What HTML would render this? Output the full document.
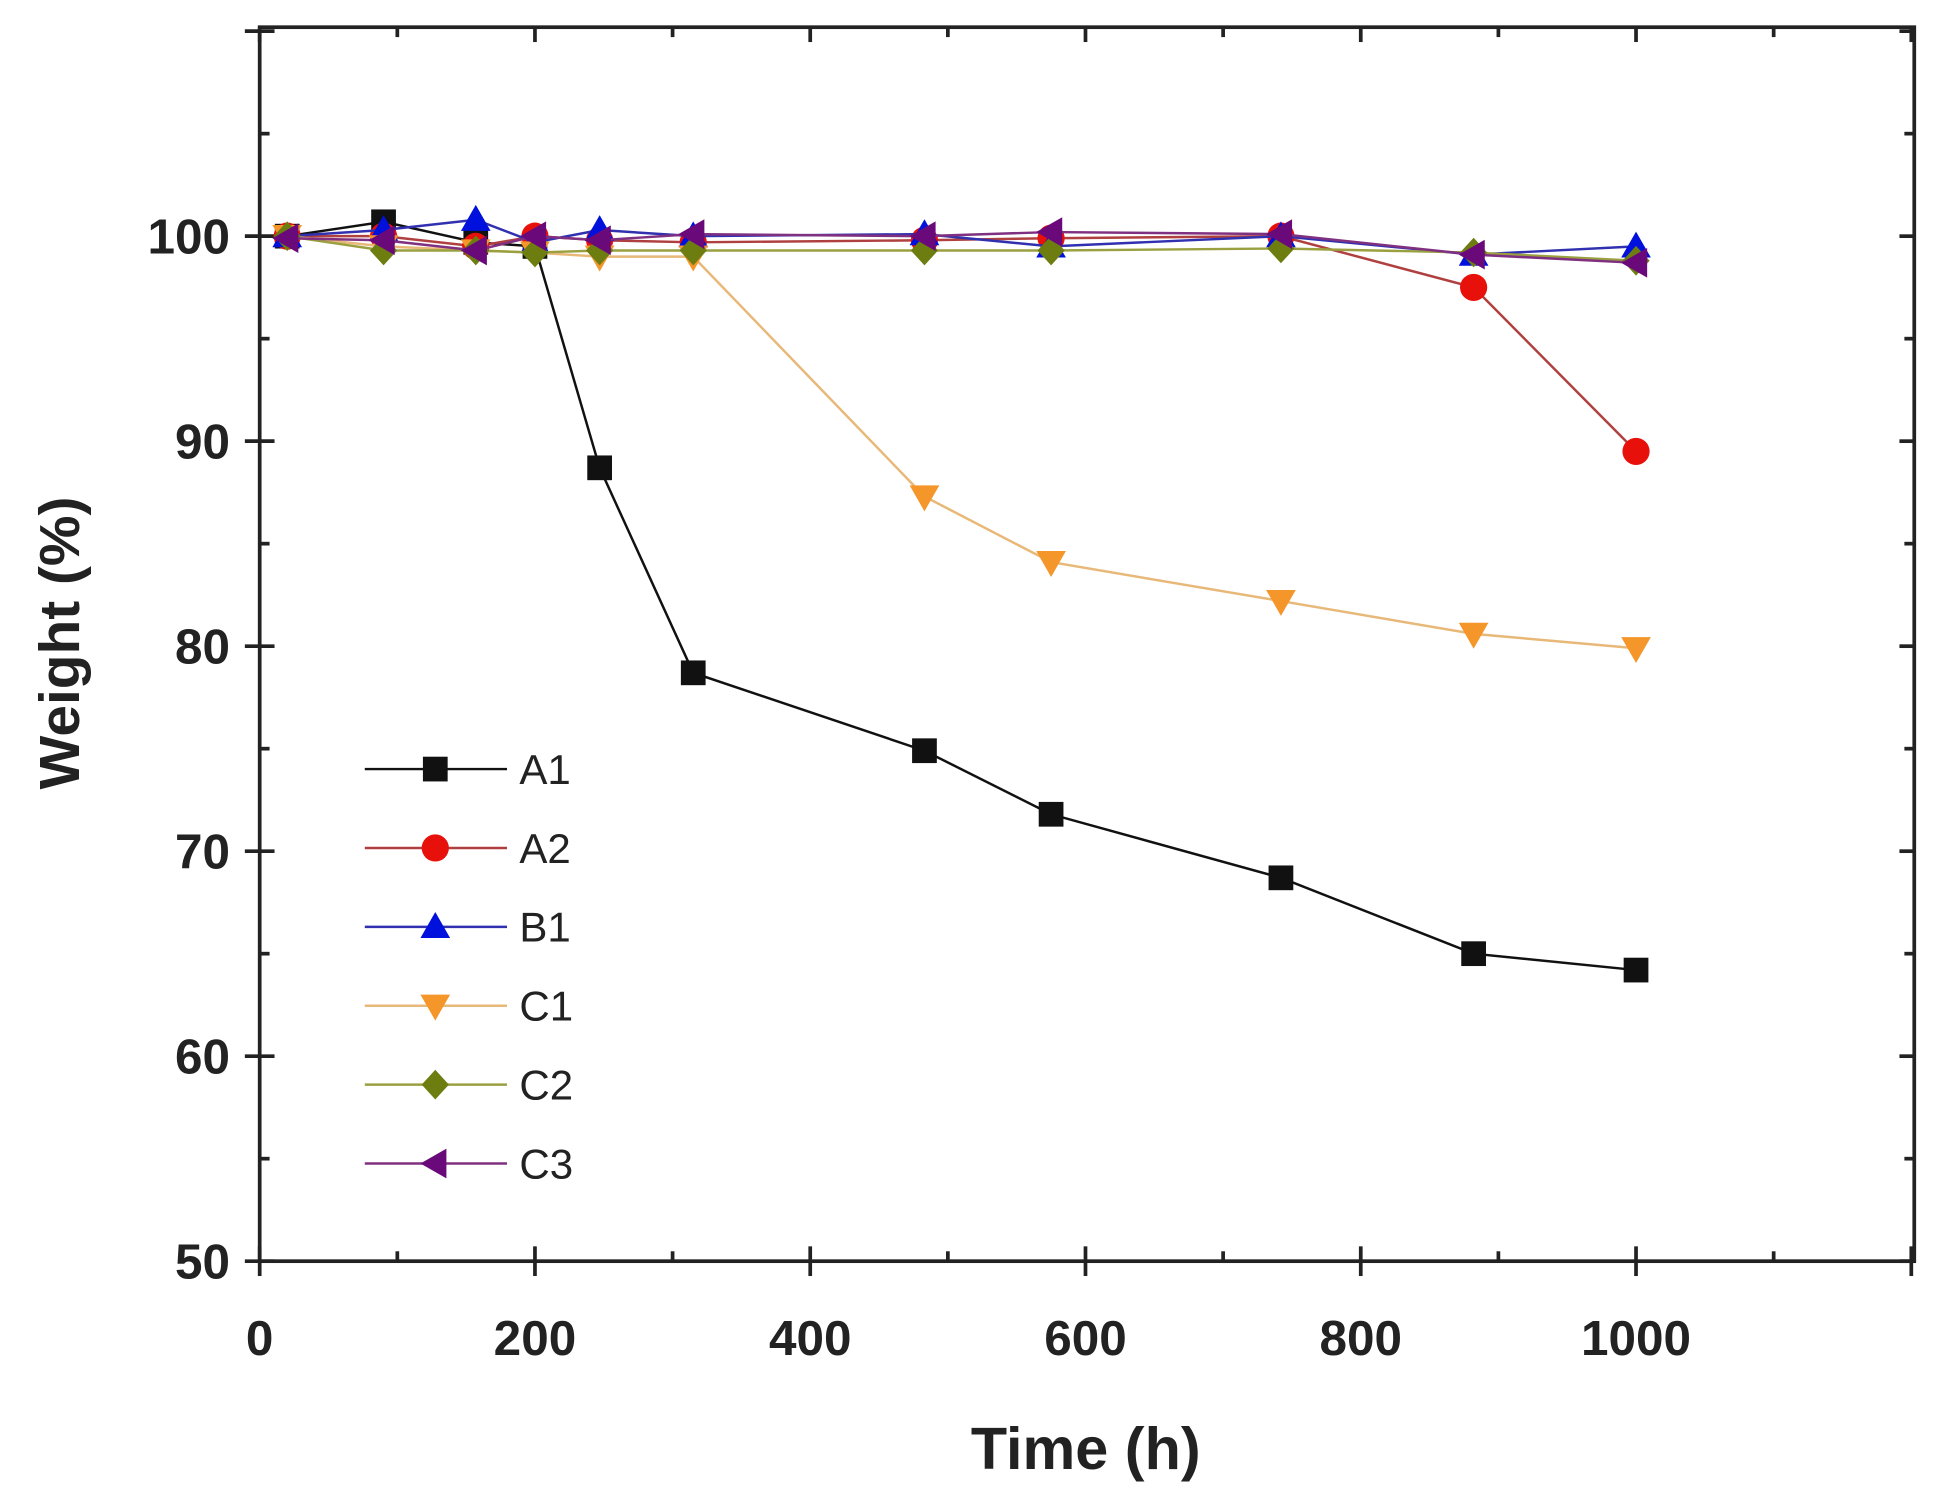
<!DOCTYPE html>
<html><head><meta charset="utf-8"><style>
html,body{margin:0;padding:0;background:#fff;}
svg{display:block;}
text{font-family:"Liberation Sans",Arial,sans-serif;}
</style></head><body>
<svg id="s" width="1939" height="1506" viewBox="0 0 1568 1218" preserveAspectRatio="none" xmlns="http://www.w3.org/2000/svg">
<rect width="1568" height="1218" fill="#fff"/>
<g id="g"></g>
</svg>
<script>
const X=t=>210+t*1.113, Y=v=>191+(100-v)*16.58;
let h='';
h+='<rect x="210" y="22" width="1338" height="998" fill="none" stroke="#222" stroke-width="3"/>';
for(let v=50;v<=110;v+=5){const y=Y(v);const maj=v%10==0;
 if(y<22||y>1020)continue;
 h+=`<line x1="${maj?198:210}" y1="${y}" x2="${maj?222:218}" y2="${y}" stroke="#222" stroke-width="3"/>`;
 h+=`<line x1="${maj?1536:1540}" y1="${y}" x2="1548" y2="${y}" stroke="#222" stroke-width="3"/>`;
 if(maj&&v<=100)h+=`<text x="186" y="${y+14}" font-size="40" font-weight="bold" text-anchor="end" fill="#222">${v}</text>`;}
for(let t=0;t<=1200;t+=100){const x=X(t);if(x>1548)continue;const maj=t%200==0;
 h+=`<line x1="${x}" y1="${maj?1008:1012}" x2="${x}" y2="${maj?1032:1020}" stroke="#222" stroke-width="3"/>`;
 h+=`<line x1="${x}" y1="22" x2="${x}" y2="${maj?34:30}" stroke="#222" stroke-width="3"/>`;
 if(maj&&t<=1000)h+=`<text x="${x}" y="1096" font-size="40" font-weight="bold" text-anchor="middle" fill="#222">${t}</text>`;}
h+='<text x="878" y="1188" font-size="48" font-weight="bold" text-anchor="middle" fill="#222">Time (h)</text>';
h+='<text transform="translate(64,520) rotate(-90)" font-size="46" font-weight="bold" text-anchor="middle" fill="#222">Weight (%)</text>';
const T=[20,90,157,200,247,315,483,575,742,882,1000];
const S=[
 ['A1','#111','#111','sq',[100,100.7,99.7,99.5,88.7,78.7,74.9,71.8,68.7,65,64.2]],
 ['A2','#b04040','#e8100b','ci',[100,100,99.5,100,99.8,99.7,99.8,99.9,100,97.5,89.5]],
 ['B1','#3030b0','#0010dd','up',[100,100.3,100.8,99.7,100.3,100,100.1,99.5,100,99.1,99.5]],
 ['C1','#e8b878','#f5962a','dn',[100,99.5,99.3,99.2,99,99,87.3,84.1,82.2,80.6,79.9]],
 ['C2','#9aa040','#6e7d10','di',[100,99.3,99.3,99.2,99.3,99.3,99.3,99.3,99.4,99.2,98.8]],
 ['C3','#803080','#6a0a7a','le',[99.9,99.8,99.3,100,99.8,100.1,100,100.2,100.1,99.1,98.7]]];
function mk(k,x,y,c){
 if(k=='sq')return `<rect x="${x-10}" y="${y-10}" width="20" height="20" fill="${c}"/>`;
 if(k=='ci')return `<circle cx="${x}" cy="${y}" r="11" fill="${c}"/>`;
 if(k=='up')return `<polygon points="${x},${y-12} ${x+12},${y+9} ${x-12},${y+9}" fill="${c}"/>`;
 if(k=='dn')return `<polygon points="${x},${y+12} ${x+12},${y-9} ${x-12},${y-9}" fill="${c}"/>`;
 if(k=='di')return `<polygon points="${x},${y-12} ${x+11},${y} ${x},${y+12} ${x-11},${y}" fill="${c}"/>`;
 return `<polygon points="${x-12},${y} ${x+9},${y-12} ${x+9},${y+12}" fill="${c}"/>`;}
S.forEach((s,i)=>{
 const p=T.map((t,j)=>[X(t),Y(s[4][j])]);
 h+=`<polyline points="${p.map(q=>q.join(',')).join(' ')}" fill="none" stroke="${s[1]}" stroke-width="2"/>`;
 p.forEach(q=>h+=mk(s[3],q[0],q[1],s[2]));
 const ly=622+i*63.8;
 h+=`<line x1="295" y1="${ly}" x2="410" y2="${ly}" stroke="${s[1]}" stroke-width="2"/>`+mk(s[3],352,ly,s[2]);
 h+=`<text x="420" y="${ly+12}" font-size="34" fill="#222">${s[0]}</text>`;
});
document.getElementById('g').innerHTML=h;
</script>
</body></html>
